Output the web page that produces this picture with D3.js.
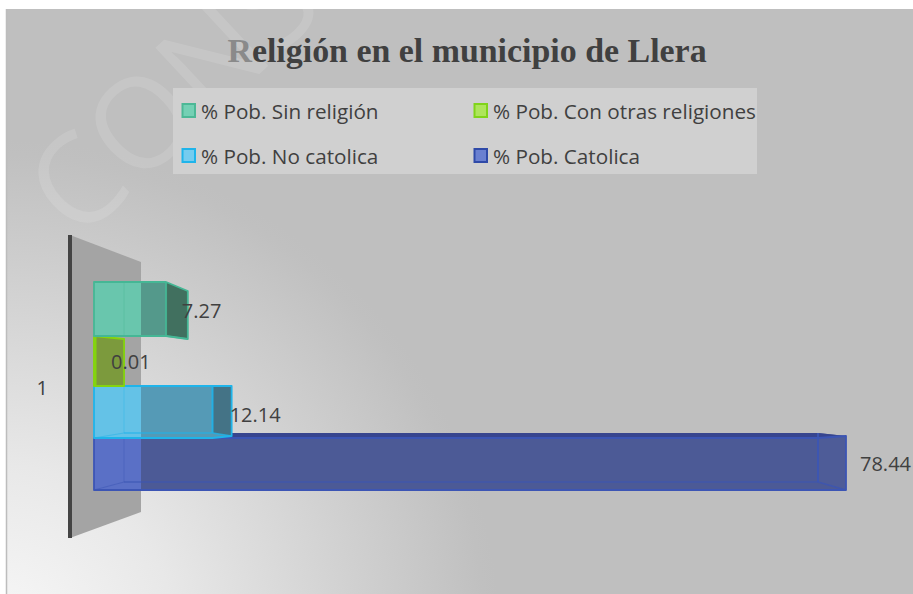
<!DOCTYPE html>
<html><head><meta charset="utf-8">
<script src="https://cdn.jsdelivr.net/npm/d3@7"></script>
<style>html,body{margin:0;padding:0;background:#fff;overflow:hidden}svg{display:block}</style>
</head><body><div id="chart"></div>
<script>
const series = ["% Pob. Catolica", "% Pob. No catolica", "% Pob. Con otras religiones", "% Pob. Sin religión"];
const values = [78.44, 12.14, 0.01, 7.27];
const labels = ["78.44", "12.14", "0.01", "7.27"];
const category = ["1"];
const legendOrder = [3, 2, 1, 0];
const title = "Religión en el municipio de Llera";
const watermark = "CONS";
// styles per series
const faceLight = ["#5a70c6", "#64c2e7", "#7c9a3d", "#69c6ad"];
const faceDark  = ["#4c5a96", "#559ab6", "#7c9a3d", "#54998b"];
const faceSide  = ["#4e5c98", "#447386", "#7c9a3d", "#41705f"];
const faceTop   = ["#37458f", "#3c86b0", "#7c9a3d", "#4c8a78"];
const edge      = ["#3c55b4", "#1fb4ea", "#84d40e", "#45b795"];
const swatch    = ["#6a80d0", "#75ccef", "#aee55c", "#74d0b4"];
const swatchEdge= ["#2f4aa8", "#1fb4ea", "#80d41a", "#4cb896"];

const W = 913, H = 594;
const svg = d3.select("#chart").append("svg").attr("width", W).attr("height", H);
const defs = svg.append("defs");
const grad = defs.append("radialGradient").attr("id", "bg").attr("gradientUnits", "userSpaceOnUse")
  .attr("cx", 0).attr("cy", 640).attr("r", 500);
grad.append("stop").attr("offset", 0).attr("stop-color", "#f8f8f8");
grad.append("stop").attr("offset", 0.35).attr("stop-color", "#e8e8e8");
grad.append("stop").attr("offset", 0.97).attr("stop-color", "#c0c0c0");
grad.append("stop").attr("offset", 1).attr("stop-color", "#bfbfbf");
defs.append("clipPath").attr("id", "wallClip").append("rect").attr("x", 60).attr("y", 200).attr("width", 81).attr("height", 360);
defs.append("clipPath").attr("id", "panelClip").append("rect").attr("x", 6).attr("y", 9).attr("width", W - 6).attr("height", H - 9);

svg.append("rect").attr("x", 6).attr("y", 9).attr("width", W - 6).attr("height", H - 9).attr("fill", "url(#bg)");
svg.append("line").attr("x1", 6.5).attr("x2", 6.5).attr("y1", 9).attr("y2", H).attr("stroke", "#bdbdbd").attr("stroke-width", 1.5);

svg.append("g").attr("clip-path", "url(#panelClip)").append("text")
  .attr("transform", "translate(78,243) rotate(-43)")
  .attr("font-family", "'Open Sans'").attr("font-weight", 400).attr("font-size", 126)
  .attr("fill", "#fff").attr("fill-opacity", 0.12).text(watermark);

// Title
const t = svg.append("text").attr("x", 467).attr("y", 62).attr("text-anchor", "middle")
  .attr("font-family", "'Liberation Serif'").attr("font-weight", 700).attr("font-size", 33.9).attr("fill", "#404040");
t.append("tspan").attr("fill", "#8a8a8a").text(title[0]);
t.append("tspan").text(title.slice(1));

// Legend
svg.append("rect").attr("x", 173).attr("y", 88).attr("width", 584).attr("height", 86).attr("fill", "#d0d0d0");
const legendX = d3.scalePoint().domain([0, 1]).range([181.5, 473.5]);
const legendY = d3.scalePoint().domain([0, 1]).range([103, 148]);
legendOrder.forEach((s, i) => {
  const g = svg.append("g").attr("transform", `translate(${legendX(i % 2)},${legendY(Math.floor(i / 2))})`);
  g.append("rect").attr("x", 1).attr("y", 1).attr("width", 12.5).attr("height", 13)
    .attr("fill", swatch[s]).attr("stroke", swatchEdge[s]).attr("stroke-width", 2);
  g.append("text").attr("x", 19.5).attr("y", 15.5).attr("font-family", "'Open Sans'").attr("font-size", 20.7)
    .attr("fill", "#404040").text(series[s]);
});

// Scales: perspective makes the two ends of each box differ
const xInner = d3.scalePow().exponent(0.97).domain([0, 78.44]).range([94, 818]);
const xOuter = d3.scalePow().exponent(1.02).domain([0, 78.44]).range([124, 846]);
const xDepth = 124;
const topDown = series.slice().reverse();
const yLeft  = d3.scaleLinear().domain([0, 1, 2, 3, 4]).range([282, 336, 386, 438, 490]);
const yInner = d3.scaleLinear().domain([0, 1, 2, 3, 4]).range([282, 336, 386, 433, 482]);
const yOuter = d3.scaleLinear().domain([0, 1, 2, 3, 4]).range([291, 339, 386, 436, 490]);
const yCat   = d3.scaleBand().domain(category).range([285, 492]);

// Wall
const wall = svg.append("g");
wall.append("polygon").attr("points", [[70, 235], [141, 262], [141, 512], [70, 538]].join(" ")).attr("fill", "#a4a4a4");
wall.append("line").attr("x1", 70).attr("x2", 70).attr("y1", 235).attr("y2", 538)
  .attr("stroke", "#444").attr("stroke-width", 4);

// Category axis
const axis = svg.append("g").attr("transform", "translate(50,0)")
  .call(d3.axisLeft(yCat).tickSize(0).tickPadding(2));
axis.select(".domain").remove();
axis.selectAll("text").attr("font-family", "'Open Sans'").attr("font-size", 20).attr("fill", "#404040");

function poly(g, pts, fill, stroke, sw) {
  return g.append("polygon").attr("points", pts.map(p => p.join(",")).join(" "))
    .attr("fill", fill).attr("stroke", stroke || "none").attr("stroke-width", sw || 0);
}
function seg(g, a, b, stroke, sw, op) {
  g.append("line").attr("x1", a[0]).attr("y1", a[1]).attr("x2", b[0]).attr("y2", b[1])
    .attr("stroke", stroke).attr("stroke-width", sw).attr("stroke-opacity", op == null ? 1 : op);
}
series.forEach((s, i) => {
  const k = topDown.indexOf(s), v = values[i];
  const l = xInner(0), a = xInner(v), b = xOuter(v);
  const lt = yLeft(k), lb = yLeft(k + 1), it = yInner(k), ib = yInner(k + 1), ot = yOuter(k), ob = yOuter(k + 1);
  const g = svg.append("g");
  const hull = [[l, lt], [a, lt], [b, ot], [b, ob], [a, lb], [l, lb]];
  poly(g, hull, faceDark[i]);
  const lit = g.append("g").attr("clip-path", "url(#wallClip)");
  poly(lit, hull, faceLight[i]);
  poly(g, [[a, it], [b, ot], [b, ob], [a, ib]], faceSide[i]);
  poly(g, [[l, lt], [xDepth, it], [a, it], [b, ot], [a, lt]], faceTop[i]);
  if (v > 1) {
    seg(g, [xDepth, it], [xDepth, ib], edge[i], 1.2, 0.3);
    seg(g, [xDepth, ib], [a, ib], edge[i], 1.5, 0.7);
    seg(g, [l, lb], [xDepth, ib], edge[i], 1.2, 0.5);
    seg(g, [a, it], [a, ib], edge[i], 2, 0.9);
    seg(g, [a, ib], [b, ob], edge[i], 1.5, 0.8);
  }
  poly(g, hull, "none", edge[i], 1.8).attr("stroke-linejoin", "round");
  if (v <= 1) seg(g, [l + 1, lt], [l + 1, lb], edge[i], 3);
});

// Value labels
const labelDx = [14, -2, -13, -6];
const labelY = [464, 415, 362, 311];
series.forEach((s, i) => {
  svg.append("text").attr("x", xOuter(values[i]) + labelDx[i]).attr("y", labelY[i]).attr("dy", "0.36em")
    .attr("font-family", "'Open Sans'").attr("font-size", 20).attr("fill", "#404040").text(labels[i]);
});
</script></body></html>
